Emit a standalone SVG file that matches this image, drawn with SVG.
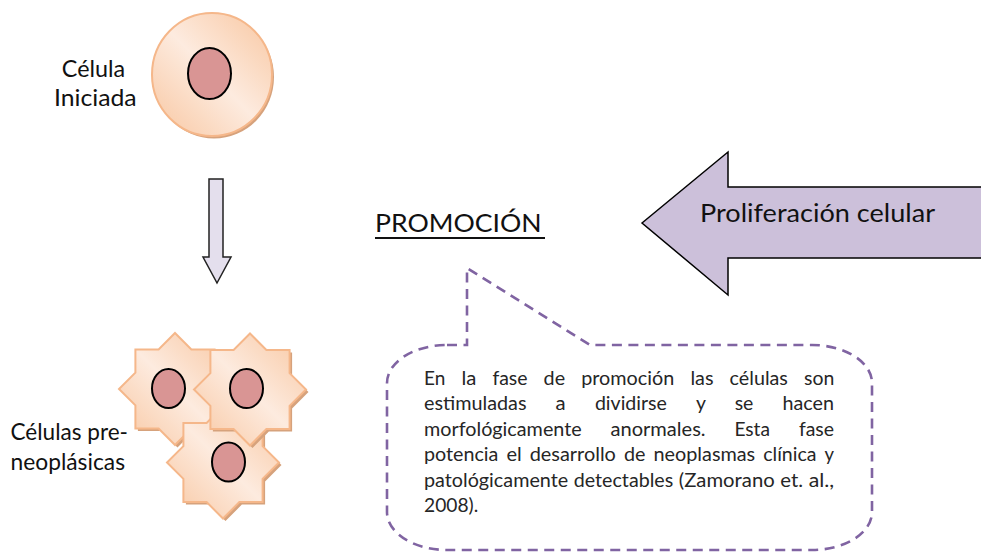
<svg xmlns="http://www.w3.org/2000/svg" width="981" height="552" viewBox="0 0 981 552">
  <defs>
    <linearGradient id="peach" x1="1" y1="0" x2="0" y2="1">
      <stop offset="0" stop-color="#f8c6a0"/>
      <stop offset="0.5" stop-color="#fdebdf"/>
      <stop offset="1" stop-color="#f8c6a0"/>
    </linearGradient>
    <!-- eight-pointed star, radius 56, centred on the origin -->
    <path id="star8" d="M0,-56 L16.4,-39.6 L39.6,-39.6 L39.6,-16.4 L56,0 L39.6,16.4 L39.6,39.6 L16.4,39.6 L0,56 L-16.4,39.6 L-39.6,39.6 L-39.6,16.4 L-56,0 L-39.6,-16.4 L-39.6,-39.6 L-16.4,-39.6 Z"/>
  </defs>
  <style>
    .cell { fill: url(#peach); stroke: #f5b78a; stroke-width: 2; }
    .shadow { fill: #d6a27c; }
    .nucleus { fill: #d99594; stroke: #000; stroke-width: 2; }
    .label { font-family: Lato, "Liberation Sans", sans-serif; fill: #111; }
    .body { font-family: Lato, "Liberation Sans", sans-serif; font-size: 19.5px; fill: #262626; }
    .callout { fill: #fff; stroke: #8064a2; stroke-width: 2.6; stroke-dasharray: 10 6.5; }
  </style>
  <rect width="981" height="552" fill="#fff"/>

  <!-- initiated cell -->
  <g id="cell-iniciada">
    <ellipse cx="214" cy="77" rx="60" ry="61.5" class="shadow"/>
    <ellipse cx="212" cy="74.5" rx="60" ry="61.5" class="cell"/>
    <ellipse cx="209.5" cy="73.5" rx="21.5" ry="25.5" class="nucleus"/>
  </g>
  <g id="label-iniciada" class="label" font-size="24" text-anchor="middle">
    <text x="93.5" y="77" textLength="63.3" lengthAdjust="spacingAndGlyphs">Célula</text>
    <text x="95.3" y="106" textLength="82.7" lengthAdjust="spacingAndGlyphs">Iniciada</text>
  </g>

  <!-- connectors -->
  <g id="connectors">
    <path id="arrow-down" d="M209,179 L223,179 L223,257 L231,257 L217,283 L203,257 L209,257 Z" fill="#e4dfed" stroke="#222" stroke-width="1.5" stroke-linejoin="miter"/>
  </g>

  <!-- pre-neoplastic cells -->
  <g id="cells-preneoplasicas">
    <g id="cell-a">
      <use href="#star8" x="177.5" y="391.5" class="shadow"/>
      <use href="#star8" x="175" y="389" class="cell"/>
      <ellipse cx="168.5" cy="388.5" rx="16.5" ry="19.5" class="nucleus"/>
    </g>
    <g id="cell-c">
      <use href="#star8" x="225.5" y="465" class="shadow"/>
      <use href="#star8" x="223" y="462.5" class="cell"/>
      <ellipse cx="228.5" cy="462" rx="16.5" ry="19.5" class="nucleus"/>
    </g>
    <g id="cell-b">
      <use href="#star8" x="252.5" y="392" class="shadow"/>
      <use href="#star8" x="250" y="389.5" class="cell"/>
      <ellipse cx="246.5" cy="388.5" rx="16.5" ry="19.5" class="nucleus"/>
    </g>
  </g>
  <g id="label-preneoplasicas" class="label" font-size="23.5">
    <text x="10.5" y="440" textLength="117.5" lengthAdjust="spacingAndGlyphs">Células pre-</text>
    <text x="10.5" y="470" textLength="114.5" lengthAdjust="spacingAndGlyphs">neoplásicas</text>
  </g>

  <!-- stage title -->
  <g id="title-promocion">
    <text x="375" y="232" class="label" font-size="25.5" textLength="166.7" lengthAdjust="spacingAndGlyphs">PROMOCIÓN</text>
    <rect x="375" y="237" width="170" height="2" fill="#111"/>
  </g>

  <!-- block arrow -->
  <g id="arrow-proliferacion">
    <path d="M642,223 L728,152 L728,187 L990,187 L990,258 L728,258 L728,295 Z" fill="#ccc0da" stroke="#000" stroke-width="1.5" stroke-linejoin="miter"/>
    <text x="700" y="222" class="label" font-size="25.5" textLength="235" lengthAdjust="spacingAndGlyphs">Proliferación celular</text>
  </g>

  <!-- speech bubble -->
  <g id="callout">
    <path class="callout" d="M447,345 L467,345 L467,268 L590,345 L812,345 A60,38 0 0 1 872,383 L872,512 A60,38 0 0 1 812,550 L447,550 A60,38 0 0 1 387,512 L387,383 A60,38 0 0 1 447,345 Z"/>
    <text class="body" y="384.5">
      <tspan x="424" textLength="21.3" lengthAdjust="spacingAndGlyphs">En</tspan>
      <tspan x="461.4" textLength="14.9" lengthAdjust="spacingAndGlyphs">la</tspan>
      <tspan x="492.4" textLength="35.1" lengthAdjust="spacingAndGlyphs">fase</tspan>
      <tspan x="543.6" textLength="21.5" lengthAdjust="spacingAndGlyphs">de</tspan>
      <tspan x="581.2" textLength="93.1" lengthAdjust="spacingAndGlyphs">promoción</tspan>
      <tspan x="690.4" textLength="23.1" lengthAdjust="spacingAndGlyphs">las</tspan>
      <tspan x="729.6" textLength="58.3" lengthAdjust="spacingAndGlyphs">células</tspan>
      <tspan x="804" textLength="30.3" lengthAdjust="spacingAndGlyphs">son</tspan>
    </text>
    <text class="body" y="410">
      <tspan x="424" textLength="102.5" lengthAdjust="spacingAndGlyphs">estimuladas</tspan>
      <tspan x="555.6" textLength="10.1" lengthAdjust="spacingAndGlyphs">a</tspan>
      <tspan x="594.9" textLength="72" lengthAdjust="spacingAndGlyphs">dividirse</tspan>
      <tspan x="696" textLength="9.5" lengthAdjust="spacingAndGlyphs">y</tspan>
      <tspan x="734.7" textLength="18.7" lengthAdjust="spacingAndGlyphs">se</tspan>
      <tspan x="782.5" textLength="51.5" lengthAdjust="spacingAndGlyphs">hacen</tspan>
    </text>
    <text class="body" y="435.5">
      <tspan x="424" textLength="157.7" lengthAdjust="spacingAndGlyphs">morfológicamente</tspan>
      <tspan x="610.5" textLength="95.1" lengthAdjust="spacingAndGlyphs">anormales.</tspan>
      <tspan x="734.4" textLength="35.6" lengthAdjust="spacingAndGlyphs">Esta</tspan>
      <tspan x="798.9" textLength="35.1" lengthAdjust="spacingAndGlyphs">fase</tspan>
    </text>
    <text class="body" y="461">
      <tspan x="424" textLength="74.4" lengthAdjust="spacingAndGlyphs">potencia</tspan>
      <tspan x="506.4" textLength="15.3" lengthAdjust="spacingAndGlyphs">el</tspan>
      <tspan x="529.7" textLength="86.2" lengthAdjust="spacingAndGlyphs">desarrollo</tspan>
      <tspan x="624" textLength="21.5" lengthAdjust="spacingAndGlyphs">de</tspan>
      <tspan x="653.5" textLength="101.7" lengthAdjust="spacingAndGlyphs">neoplasmas</tspan>
      <tspan x="763.2" textLength="53.3" lengthAdjust="spacingAndGlyphs">clínica</tspan>
      <tspan x="824.5" textLength="9.5" lengthAdjust="spacingAndGlyphs">y</tspan>
    </text>
    <text class="body" y="486.5">
      <tspan x="424" textLength="144.2" lengthAdjust="spacingAndGlyphs">patológicamente</tspan>
      <tspan x="573.8" textLength="99.4" lengthAdjust="spacingAndGlyphs">detectables</tspan>
      <tspan x="678.8" textLength="95.9" lengthAdjust="spacingAndGlyphs">(Zamorano</tspan>
      <tspan x="780.3" textLength="22.8" lengthAdjust="spacingAndGlyphs">et.</tspan>
      <tspan x="808.7" textLength="25.4" lengthAdjust="spacingAndGlyphs">al.,</tspan>
    </text>
    <text class="body" x="424" y="512" textLength="54.2" lengthAdjust="spacingAndGlyphs">2008).</text>
  </g>
</svg>
